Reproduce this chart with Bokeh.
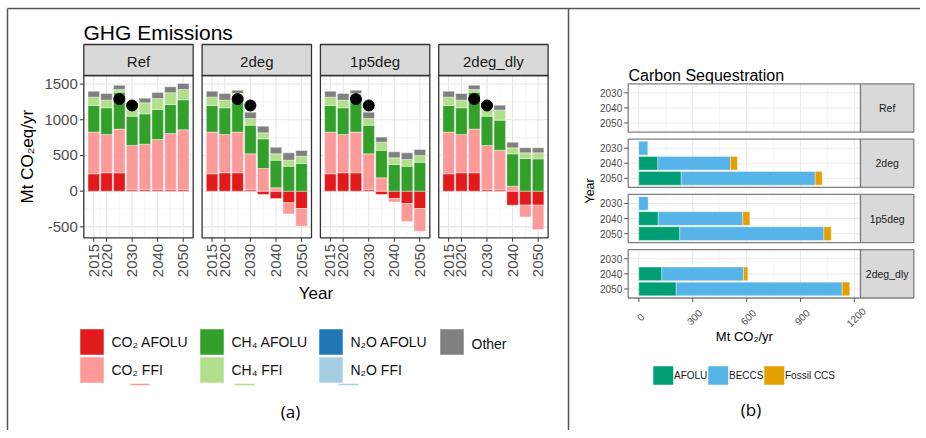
import math
from bokeh.plotting import figure
from bokeh.models import Range1d
from bokeh.core.properties import value
from bokeh.embed import file_html
from bokeh.resources import INLINE

# ------------------------------------------------------------------ data
years = [2015, 2020, 2025, 2030, 2035, 2040, 2045, 2050]
scenarios = ["Ref", "2deg", "1p5deg", "2deg_dly"]
ghg_labels = ["CO₂ AFOLU", "CO₂ FFI", "CH₄ AFOLU", "CH₄ FFI", "N₂O AFOLU", "N₂O FFI", "Other"]
ghg_colors = ["#E31A1C", "#FB9A99", "#33A02C", "#B2DF8A", "#1F78B4", "#A6CEE3", "#808080"]

co2_afolu = {
    "Ref":      [243, 257, 257, 19, 19, 19, 19, 19],
    "2deg":     [243, 257, 257, 19, -45, -103, -163, -243],
    "1p5deg":   [243, 257, 257, 19, -47, -103, -173, -243],
    "2deg_dly": [243, 257, 257, 19, 19, -196, -196, -196],
}
co2_ffi = {
    "Ref":      [584, 537, 612, 621, 639, 705, 789, 840],
    "2deg":     [584, 537, 570, 504, 318, 47, -155, -247],
    "1p5deg":   [584, 537, 570, 504, 187, -47, -252, -317],
    "2deg_dly": [584, 537, 612, 621, 555, 70, -164, -341],
}
ch4_afolu = {
    "Ref":      [373, 374, 518, 411, 425, 420, 406, 421],
    "2deg":     [373, 374, 503, 402, 415, 387, 350, 388],
    "1p5deg":   [373, 374, 503, 402, 387, 374, 350, 406],
    "2deg_dly": [373, 374, 518, 411, 421, 453, 458, 453],
}
ch4_ffi = {
    "Ref":      [117, 107, 37, 124, 154, 154, 164, 144],
    "2deg":     [117, 107, 40, 93, 84, 89, 84, 102],
    "1p5deg":   [117, 107, 40, 93, 112, 93, 94, 94],
    "2deg_dly": [117, 107, 37, 124, 140, 84, 79, 84],
}
n2o_afolu = {s: [0, 0, 0, 0, 0, 0, 0, 0] for s in scenarios}
n2o_ffi = {s: [0, 0, 0, 0, 0, 0, 0, 0] for s in scenarios}
other = {
    "Ref":      [84, 93, 61, 55, 66, 84, 84, 84],
    "2deg":     [84, 93, 45, 89, 94, 93, 103, 80],
    "1p5deg":   [84, 93, 45, 89, 71, 84, 93, 84],
    "2deg_dly": [84, 93, 61, 55, 70, 79, 70, 70],
}
target_years = [2025, 2030]
target_values = [1290, 1200]

ghg_x_breaks = [2015, 2020, 2030, 2040, 2050]
ghg_x_labels = ["2015", "2020", "2030", "2040", "2050"]
ghg_x_minor = [2017.5, 2025, 2035, 2045]
ghg_y_breaks = [-500, 0, 500, 1000, 1500]
ghg_y_labels = ["-500", "0", "500", "1000", "1500"]
ghg_y_minor = [-250, 250, 750, 1250]
ghg_x_lim = (2011.1, 2053.9)
ghg_y_lim = (-653, 1620)

cs_years = ["2030", "2040", "2050"]
cs_labels = ["AFOLU", "BECCS", "Fossil CCS"]
cs_colors = ["#009E73", "#56B4E9", "#E69F00"]
cs_afolu = {"Ref": [0, 0, 0], "2deg": [0, 106, 236], "1p5deg": [0, 108, 228], "2deg_dly": [0, 128, 208]}
cs_beccs = {"Ref": [0, 0, 0], "2deg": [50, 404, 746], "1p5deg": [52, 471, 802], "2deg_dly": [0, 455, 924]}
cs_fossil = {"Ref": [0, 0, 0], "2deg": [0, 39, 39], "1p5deg": [0, 39, 41], "2deg_dly": [0, 24, 42]}
cs_x_breaks = [0, 300, 600, 900, 1200]
cs_x_labels = ["0", "300", "600", "900", "1200"]
cs_x_minor = [150, 450, 750, 1050]
cs_x_lim = (-59, 1234)
cs_y_lim = (0.4, 3.6)

# ------------------------------------------------------------------ layout (page pixel coords)
W, H = 920, 430
CANVAS_X = (0, W)
CANVAS_Y = (H, 0)      # bottom, top (y grows downward)
L_X0 = [83.3, 201.6, 319.9, 438.2]
L_W = 109.4
L_STRIP_TOP, L_TOP, L_BOTTOM = 44, 75, 237.3
R_X0, R_X1, R_STRIP_X1 = 627.7, 860, 913.3
R_TOP = [83.3, 138.6, 193.9, 249.2]
R_H = 48.3

FONT = "Liberation Sans"


def mapped_range(d0, d1, s0, s1, c_start, c_end):
    k = (d1 - d0) / (s1 - s0)
    return Range1d(start=d0 + (c_start - s0) * k, end=d0 + (c_end - s0) * k)


p = figure(width=W, height=H, x_range=Range1d(*CANVAS_X), y_range=Range1d(*CANVAS_Y),
           x_axis_type=None, y_axis_type=None, output_backend="svg", toolbar_location=None,
           min_border=0, min_border_left=0, min_border_right=0, min_border_top=0, min_border_bottom=0)
p.outline_line_color = None
p.background_fill_color = "white"
p.border_fill_color = "white"

for k, s in enumerate(scenarios):
    p.extra_x_ranges["ghg%d" % k] = mapped_range(ghg_x_lim[0], ghg_x_lim[1], L_X0[k], L_X0[k] + L_W, *CANVAS_X)
    p.extra_y_ranges["cs%d" % k] = mapped_range(cs_y_lim[0], cs_y_lim[1], R_TOP[k], R_TOP[k] + R_H, *CANVAS_Y)
p.extra_y_ranges["ghg_y"] = mapped_range(ghg_y_lim[0], ghg_y_lim[1], L_BOTTOM, L_TOP, *CANVAS_Y)
p.extra_x_ranges["cs_x"] = mapped_range(cs_x_lim[0], cs_x_lim[1], R_X0, R_X1, *CANVAS_X)


def txt(x, y, s, size, color="#1A1A1A", align="left", baseline="middle", angle=0.0, font=FONT, **kw):
    p.text(x=x if isinstance(x, list) else [x], y=y if isinstance(y, list) else [y],
           text=s if isinstance(s, list) else [s], text_font=value(font), text_font_size=value(size),
           text_color=color, text_align=align, text_baseline=baseline, angle=angle, **kw)


# ------------------------------------------------------------------ outer frame
p.segment(x0=[7, 7, 568], y0=[8, 8, 8], x1=[W, 7, 568], y1=[8, H, H],
          line_color="#555555", line_width=1.5)

# ------------------------------------------------------------------ GHG panels
txt(83, 32, "GHG Emissions", "21px", color="#000000", baseline="alphabetic")

def stack(series):
    n = len(years)
    pos = [0] * n
    neg = [0] * n
    out = []
    for vals in series:
        b, t = [], []
        for i, v in enumerate(vals):
            if v >= 0:
                b.append(pos[i]); t.append(pos[i] + v); pos[i] += v
            else:
                b.append(neg[i]); t.append(neg[i] + v); neg[i] += v
        out.append((b, t))
    return out

for k, s in enumerate(scenarios):
    xr = "ghg%d" % k
    y0, y1 = ghg_y_lim
    x0, x1 = ghg_x_lim
    # grid
    p.segment(x0=ghg_x_minor, x1=ghg_x_minor, y0=[y0] * 4, y1=[y1] * 4, x_range_name=xr, y_range_name="ghg_y",
              line_color="#EEEEEE", line_width=0.6)
    p.segment(x0=[x0] * 4, x1=[x1] * 4, y0=ghg_y_minor, y1=ghg_y_minor, x_range_name=xr, y_range_name="ghg_y",
              line_color="#EEEEEE", line_width=0.6)
    p.segment(x0=ghg_x_breaks, x1=ghg_x_breaks, y0=[y0] * 5, y1=[y1] * 5, x_range_name=xr, y_range_name="ghg_y",
              line_color="#E6E6E6", line_width=1.1)
    p.segment(x0=[x0] * 5, x1=[x1] * 5, y0=ghg_y_breaks, y1=ghg_y_breaks, x_range_name=xr, y_range_name="ghg_y",
              line_color="#E6E6E6", line_width=1.1)
    # bars
    series = [co2_afolu[s], co2_ffi[s], ch4_afolu[s], ch4_ffi[s], n2o_afolu[s], n2o_ffi[s], other[s]]
    for (b, t), vals, col in zip(stack(series), series, ghg_colors):
        idx = [i for i, v in enumerate(vals) if v != 0]
        if not idx:
            continue
        p.vbar(x=[years[i] for i in idx], width=4.5, bottom=[b[i] for i in idx], top=[t[i] for i in idx],
               x_range_name=xr, y_range_name="ghg_y", fill_color=col, line_color="white", line_width=0.5,
               line_alpha=0.8)
    p.scatter(x=target_years, y=target_values, x_range_name=xr, y_range_name="ghg_y", size=11,
              fill_color="black", line_color="black")
    # panel border and strip
    L = L_X0[k]
    p.quad(left=[L], right=[L + L_W], top=[L_TOP], bottom=[L_BOTTOM], fill_color=None,
           line_color="#333333", line_width=1.3)
    p.quad(left=[L], right=[L + L_W], top=[L_STRIP_TOP], bottom=[L_TOP], fill_color="#D9D9D9",
           line_color="#333333", line_width=1.3)
    txt(L + L_W / 2, (L_STRIP_TOP + L_TOP) / 2 + 1, s, "15px", align="center")
    # x ticks
    p.segment(x0=ghg_x_breaks, x1=ghg_x_breaks, y0=[L_BOTTOM] * 5, y1=[L_BOTTOM + 4] * 5,
              x_range_name=xr, line_color="#333333", line_width=1)
    p.text(x=ghg_x_breaks, y=[L_BOTTOM + 6] * 5, text=ghg_x_labels, x_range_name=xr, angle=math.pi / 2,
           text_align="right", text_baseline="middle", text_font=value(FONT), text_font_size=value("15px"),
           text_color="#4D4D4D")

# y axis of first panel
p.segment(x0=[L_X0[0] - 4] * 5, x1=[L_X0[0]] * 5, y0=ghg_y_breaks, y1=ghg_y_breaks, y_range_name="ghg_y",
          line_color="#333333", line_width=1)
p.text(x=[L_X0[0] - 6] * 5, y=ghg_y_breaks, text=ghg_y_labels, y_range_name="ghg_y", text_align="right",
       text_baseline="middle", text_font=value(FONT), text_font_size=value("15px"), text_color="#4D4D4D")
txt(27, (L_TOP + L_BOTTOM) / 2, "Mt CO₂eq/yr", "17px", color="#000000", align="center", angle=math.pi / 2)
txt((L_X0[0] + L_X0[3] + L_W) / 2, 293, "Year", "17px", color="#000000", align="center")

# GHG legend
leg_cols = [80, 200, 319, 440]
leg_rows = [341.5, 369.5]
leg_pos = [(0, 0), (0, 1), (1, 0), (1, 1), (2, 0), (2, 1), (3, 0)]
for lab, col, (c, r) in zip(ghg_labels, ghg_colors, leg_pos):
    cx = leg_cols[c]
    cy = leg_rows[r]
    p.quad(left=[cx], right=[cx + 23], top=[cy - 12.5], bottom=[cy + 12.5], fill_color=col,
           line_color=col, line_width=0.5)
    txt(cx + 31, cy + (1.5 if lab == "Other" else 0), lab, "14px", color="#111111")
# small underline marks under FFI entries
p.segment(x0=[130, 234, 338], x1=[149, 254, 358], y0=[384, 384, 384], y1=[384, 384, 384],
          line_color=[ghg_colors[1], ghg_colors[3], ghg_colors[5]], line_width=1.5)
txt(290, 411, "(a)", "17px", color="#000000", align="center", font="Open Sans")

# ------------------------------------------------------------------ Carbon sequestration
txt(628, 75, "Carbon Sequestration", "16px", color="#000000", baseline="alphabetic")
cat_pos = [i + 1 for i in range(len(cs_years))]
for k, s in enumerate(scenarios):
    yr = "cs%d" % k
    x0, x1 = cs_x_lim
    y0, y1 = cs_y_lim
    p.segment(x0=cs_x_minor, x1=cs_x_minor, y0=[y0] * 4, y1=[y1] * 4, x_range_name="cs_x", y_range_name=yr,
              line_color="#F0F0F0", line_width=0.6)
    p.segment(x0=cs_x_breaks, x1=cs_x_breaks, y0=[y0] * 5, y1=[y1] * 5, x_range_name="cs_x", y_range_name=yr,
              line_color="#EBEBEB", line_width=1)
    p.segment(x0=[x0] * 3, x1=[x1] * 3, y0=cat_pos, y1=cat_pos, x_range_name="cs_x", y_range_name=yr,
              line_color="#EBEBEB", line_width=1)
    left = [0, 0, 0]
    for vals, col in zip([cs_afolu[s], cs_beccs[s], cs_fossil[s]], cs_colors):
        idx = [i for i, v in enumerate(vals) if v > 0]
        if idx:
            p.hbar(y=[cat_pos[i] for i in idx], height=0.9, left=[left[i] for i in idx],
                   right=[left[i] + vals[i] for i in idx], x_range_name="cs_x", y_range_name=yr,
                   fill_color=col, line_color="white", line_width=0.5, line_alpha=0.7)
        left = [a + v for a, v in zip(left, vals)]
    T = R_TOP[k]
    p.quad(left=[R_X0], right=[R_X1], top=[T], bottom=[T + R_H], fill_color=None,
           line_color="#808080", line_width=1.3)
    p.quad(left=[R_X1], right=[R_STRIP_X1], top=[T], bottom=[T + R_H], fill_color="#D9D9D9",
           line_color="#808080", line_width=1.3)
    txt((R_X1 + R_STRIP_X1) / 2, T + R_H / 2, s, "10.5px", align="center")
    # y ticks
    p.segment(x0=[R_X0 - 4] * 3, x1=[R_X0] * 3, y0=cat_pos, y1=cat_pos, y_range_name=yr,
              line_color="#555555", line_width=1)
    p.text(x=[R_X0 - 6] * 3, y=cat_pos, text=cs_years, y_range_name=yr, text_align="right",
           text_baseline="middle", text_font=value(FONT), text_font_size=value("10px"), text_color="#4D4D4D")

bottom = R_TOP[3] + R_H
p.segment(x0=cs_x_breaks, x1=cs_x_breaks, y0=[bottom] * 5, y1=[bottom + 4] * 5, x_range_name="cs_x",
          line_color="#555555", line_width=1)
p.text(x=cs_x_breaks, y=[bottom + 19] * 5, text=cs_x_labels, x_range_name="cs_x", x_offset=1.5,
       angle=math.pi / 4, text_align="center", text_baseline="middle", text_font=value(FONT),
       text_font_size=value("10px"), text_color="#4D4D4D")
txt((R_X0 + R_X1) / 2, 336, "Mt CO₂/yr", "13px", color="#000000", align="center")
txt(589, (R_TOP[0] + bottom) / 2, "Year", "12.5px", color="#000000", align="center", angle=math.pi / 2)

# CS legend
cs_leg_x = [653, 708, 764]
for lab, col, lx in zip(cs_labels, cs_colors, cs_leg_x):
    p.quad(left=[lx], right=[lx + 19.5], top=[366], bottom=[384], fill_color=col, line_color=col,
           line_width=0.5)
    txt(lx + 20.5, 375, lab, "10px", color="#1A1A1A")
txt(750.5, 409, "(b)", "17px", color="#000000", align="center", font="Open Sans")

open("out.html", "w").write(file_html(p, INLINE))
